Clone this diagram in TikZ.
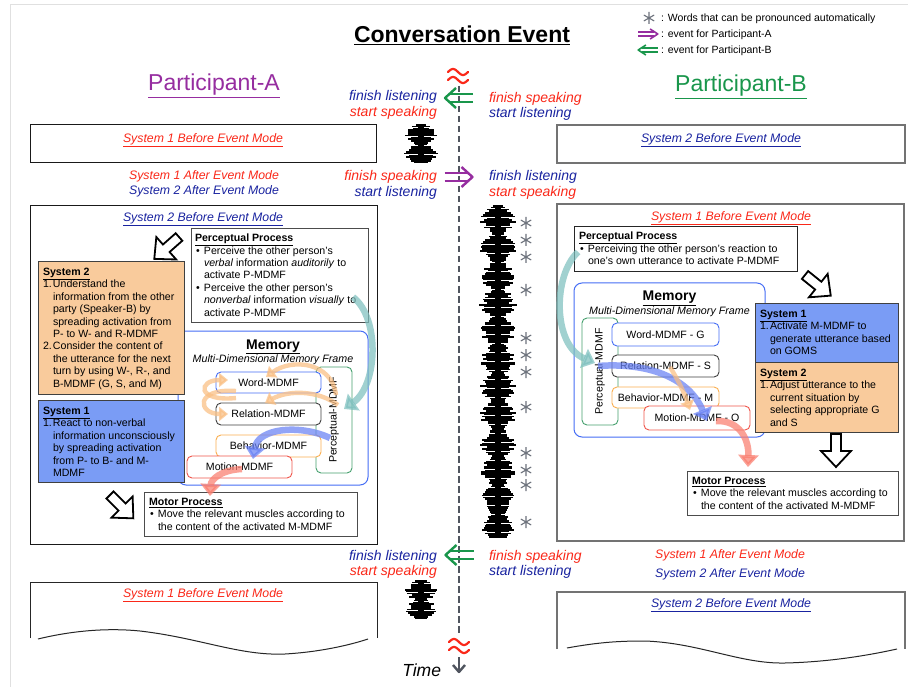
\documentclass[tikz,border=0pt]{standalone}
\usepackage{fontspec}
\setmainfont{Liberation Sans}
\usetikzlibrary{arrows.meta}
\definecolor{navy}{RGB}{25,35,160}
\definecolor{rtxt}{RGB}{250,40,25}
\definecolor{purp}{RGB}{150,45,160}
\definecolor{grn}{RGB}{25,150,75}
\definecolor{membl}{RGB}{70,110,245}
\definecolor{orbd}{RGB}{250,175,80}
\definecolor{rdbd}{RGB}{240,85,75}
\definecolor{grbd}{RGB}{70,160,110}
\definecolor{sysone}{RGB}{122,156,245}
\definecolor{systwo}{RGB}{249,203,156}
\definecolor{tealar}{RGB}{125,192,190}
\definecolor{orar}{RGB}{250,190,130}
\definecolor{blar}{RGB}{105,130,245}
\definecolor{saar}{RGB}{250,125,110}
\definecolor{axisgr}{RGB}{80,85,95}
\definecolor{asgr}{RGB}{110,115,125}
\newcommand\bitem{\hspace*{1pt}\makebox[8pt][l]{•}}
\newcommand\bind{\hspace*{9pt}}
\newcommand\nitem[1]{\makebox[10pt][l]{#1}}
\newcommand\nind{\hspace*{10pt}}
\newcommand\ttl[1]{\underline{\textbf{#1}}}
\newcommand\astk[2]{\draw[asgr, line width=1.1pt, shift={(#1,#2)}] (90:6) -- (270:6) (30:6) -- (210:6) (-30:6) -- (150:6);}
\newcommand\evarrow[6]{\begin{scope}[shift={(#2,#3)}, xscale=#4, yscale=#5]
 \draw[#1, line width=#6, line join=round] (3,-10) -- (14,0) -- (3,10);
 \draw[#1, line width=#6] (-14,-4) -- (9,-4) (-14,4) -- (9,4);
\end{scope}}
\newcommand\hollowarr[3]{\draw[line width=1.8pt, fill=white, line join=miter, shift={(#1,#2)}, rotate=#3] (0,-5) -- (17,-5) -- (17,-15) -- (33,0) -- (17,15) -- (17,5) -- (0,5) -- cycle;}
\newcommand\wavecol[5]{%
 \fill (#1-3,#2) rectangle (#1+3,#2+1.8*#3+1.65);
 \foreach \k in {0,...,#3}{%
   \pgfmathsetmacro\hw{3+#4*(0.25+0.75*abs(sin(\k*#5)))*(0.5+0.5*rnd)}%
   \fill ({#1-\hw},{#2+1.8*\k}) rectangle ({#1+\hw},{#2+1.8*\k+1.65});
 }}
\newcommand\squig[2]{\begin{scope}[shift={(#1,#2)}]
 \draw[rtxt, line width=2.2pt, line cap=round] plot[domain=-10:10, samples=25, smooth] (\x, {-4+3*sin(\x*18)});
 \draw[rtxt, line width=2.2pt, line cap=round] plot[domain=-10:10, samples=25, smooth] (\x, {4+3*sin(\x*18)});
\end{scope}}
\tikzset{
 every node/.style={inner sep=0pt, outer sep=0pt},
 body/.style={font=\fontsize{10.6}{12.4}\selectfont, align=left, anchor=north west},
 evt/.style={font=\fontsize{14}{16}\selectfont\itshape},
 mode/.style={font=\fontsize{12.3}{14}\selectfont\itshape, anchor=base},
 legend/.style={font=\fontsize{10.5}{12}\selectfont, anchor=base west},
 outerA/.style={draw=black!90, line width=1pt, anchor=north west},
 outerB/.style={draw=black!55, line width=1.2pt, anchor=north west},
 pbox/.style={draw=black!70, line width=0.9pt, fill=white, anchor=north west},
 sbox/.style={draw=black!75, line width=0.9pt, anchor=north west},
 mbox/.style={draw, line width=0.9pt, rounded corners=5pt, fill=white, font=\fontsize{10.6}{12}\selectfont, anchor=north west},
 membox/.style={draw=membl, line width=1pt, rounded corners=8pt, anchor=north west},
 fat/.style={line width=6.5pt, opacity=0.72, -{Triangle[length=12pt,width=20pt]}},
 fatsm/.style={line width=4.4pt, opacity=0.72, -{Triangle[length=9pt,width=14pt]}},
}
\begin{document}
\begin{tikzpicture}[x=1pt,y=-1pt]
\useasboundingbox (0,0) rectangle (908,687);
\fill[white] (0,0) rectangle (908,687);
\draw[black!12, line width=1pt] (10,687) -- (10,5) -- (908,5);
\pgfmathsetseed{4321}

% ---- titles
\node[font=\fontsize{23}{26}\selectfont\bfseries, anchor=base] (title) at (462,43) {\underline{Conversation Event}};
\node[font=\fontsize{23}{26}\selectfont, text=purp, anchor=base] (pa) at (214,91) {\underline{Participant-A}};
\node[font=\fontsize{23}{26}\selectfont, text=grn, anchor=base] (pb) at (741,92) {\underline{Participant-B}};

% ---- legend
\astk{649}{18}
\node[legend] (lg1) at (661,22) {: Words that can be pronounced automatically};
\evarrow{purp}{648}{34}{0.7}{0.5}{1.6pt}
\node[legend] (lg2) at (661,38) {: event for Participant-A};
\evarrow{grn}{648}{50}{-0.7}{0.5}{1.6pt}
\node[legend] (lg3) at (661,54) {: event for Participant-B};

% ---- time axis
\draw[axisgr, line width=2.4pt, dash pattern=on 6.5pt off 3.5pt] (459,86) -- (459,636);
\squig{458}{76}
\squig{459}{646}
\draw[axisgr, line width=2.4pt] (459,657) -- (459,672);
\draw[axisgr, line width=2.4pt, line join=round] (453,665) -- (459,672) -- (465,665);
\node[font=\fontsize{17.5}{20}\selectfont\itshape, anchor=base east] (time) at (441,676) {Time};

% ---- event 1
\node[evt, text=navy, anchor=base east] (e1a) at (437,101) {finish listening};
\node[evt, text=rtxt, anchor=base east] (e1b) at (437,116.5) {start speaking};
\evarrow{grn}{459}{98}{-1}{1}{2.4pt}
\node[evt, text=rtxt, anchor=base west] (e1c) at (489,103) {finish speaking};
\node[evt, text=navy, anchor=base west] (e1d) at (489,117.5) {start listening};
% ---- event 2
\node[evt, text=rtxt, anchor=base east] (e2a) at (437,181) {finish speaking};
\node[evt, text=navy, anchor=base east] (e2b) at (437,196.5) {start listening};
\evarrow{purp}{458.5}{177}{1}{1}{2.4pt}
\node[evt, text=navy, anchor=base west] (e2c) at (489,181) {finish listening};
\node[evt, text=rtxt, anchor=base west] (e2d) at (489,197) {start speaking};
% ---- event 3
\node[evt, text=navy, anchor=base east] (e3a) at (437,560) {finish listening};
\node[evt, text=rtxt, anchor=base east] (e3b) at (437,575) {start speaking};
\evarrow{grn}{459.5}{555}{-1}{1}{2.4pt}
\node[evt, text=rtxt, anchor=base west] (e3c) at (489,560) {finish speaking};
\node[evt, text=navy, anchor=base west] (e3d) at (489,575) {start listening};

% ---- waveforms and asterisks
\wavecol{421}{124}{21}{15}{17}
\wavecol{498}{205}{184}{16}{11.6}
\wavecol{421}{580}{21}{15}{17}
\foreach \yy in {223,240,257,290,338,355,372,407,453,470,485,522}{\astk{526}{\yy}}

% ---- top boxes
\node[outerA, minimum width=346, minimum height=38] (tbA) at (30,125) {};
\node[mode, text=rtxt] (tbAt) at (203,142.5) {\underline{System 1 Before Event Mode}};
\node[outerB, minimum width=348, minimum height=38] (tbB) at (557,125) {};
\node[mode, text=navy] (tbBt) at (721,142.5) {\underline{System 2 Before Event Mode}};
\node[mode, text=rtxt] (amA1) at (204,179.5) {System 1 After Event Mode};
\node[mode, text=navy] (amA2) at (204,194.5) {System 2 After Event Mode};

% ================= LEFT BIG BOX
\node[outerA, minimum width=347, minimum height=338] (bigA) at (30,206) {};
\node[mode, text=navy] (bigAt) at (203,221.5) {\underline{System 2 Before Event Mode}};
% memory
\node[membox, minimum width=190, minimum height=154] (memA) at (178,331) {};
\node[font=\fontsize{14}{16}\selectfont\bfseries, anchor=base] (memAt) at (273,349) {\underline{Memory}};
\node[font=\fontsize{10.7}{12}\selectfont\itshape, anchor=base] (memAs) at (273,362) {Multi-Dimensional Memory Frame};
\node[mbox, draw=grbd, minimum width=36, minimum height=106] (pmA) at (316,367) {};
\node[rotate=90, font=\fontsize{10.6}{12}\selectfont] (pmAt) at (334,420) {Perceptual-MDMF};
\node[mbox, draw=membl, minimum width=105, minimum height=21] (wA) at (216,372) {Word-MDMF};
\node[mbox, draw=black!75, minimum width=105, minimum height=22] (rA) at (216,403) {Relation-MDMF};
\node[mbox, draw=orbd, minimum width=105, minimum height=22] (bA) at (216,435) {Behavior-MDMF};
\node[mbox, draw=rdbd, minimum width=105, minimum height=22] (mA) at (187,456) {Motion-MDMF};
% perceptual process
\node[pbox, minimum width=177, minimum height=94] (ppA) at (191,228) {};
\node[body] (ppAt) at (195,234) {\ttl{Perceptual Process}\\
\bitem Perceive the other person's\\
\bind\textit{verbal} information \textit{auditorily} to\\
\bind activate P-MDMF\\
\bitem Perceive the other person's\\
\bind\textit{nonverbal} information \textit{visually} to\\
\bind activate P-MDMF};
% system boxes
\node[sbox, fill=systwo, minimum width=146, minimum height=133] (s2A) at (38,261) {};
\node[body] (s2At) at (43,268) {\ttl{System 2}\\
\nitem{1.}Understand the\\
\nind information from the other\\
\nind party (Speaker-B) by\\
\nind spreading activation from\\
\nind P- to W- and R-MDMF\\
\nitem{2.}Consider the content of\\
\nind the utterance for the next\\
\nind turn by using W-, R-, and\\
\nind B-MDMF (G, S, and M)};
\node[sbox, fill=sysone, minimum width=146, minimum height=82] (s1A) at (38,400) {};
\node[body] (s1At) at (43,407) {\ttl{System 1}\\
\nitem{1.}React to non-verbal\\
\nind information unconsciously\\
\nind by spreading activation\\
\nind from P- to B- and M-\\
\nind MDMF};
% motor
\node[pbox, minimum width=213, minimum height=44] (moA) at (144,492) {};
\node[body] (moAt) at (149,498) {\ttl{Motor Process}\\
\bitem Move the relevant muscles according to\\
\bind the content of the activated M-MDMF};
% hollow arrows
\hollowarr{179}{237}{221.5}
\hollowarr{110}{495}{-45}
% coloured flows
\coordinate (tA1) at (353,297); \coordinate (tA2) at (344,409);
\draw[fat, tealar] (tA1) .. controls (380,318) and (378,385) .. (tA2);
\coordinate (oA1) at (336,395); \coordinate (oA2) at (266,377);
\draw[fatsm, orar] (oA1) .. controls (332,362) and (292,358) .. (oA2);
\coordinate (oA3) at (338,405); \coordinate (oA4) at (265,403);
\draw[fatsm, orar] (oA3) .. controls (318,390) and (288,390) .. (oA4);
\coordinate (oA5) at (236,398); \coordinate (oA6) at (228,380);
\draw[fatsm, orar] (oA5) .. controls (196,402) and (198,380) .. (oA6);
\coordinate (oA7) at (236,391); \coordinate (oA8) at (228,414);
\draw[fatsm, orar] (oA7) .. controls (194,388) and (198,414) .. (oA8);
\coordinate (bA1) at (330,438); \coordinate (bA2) at (253,459);
\draw[fat, blar] (bA1) .. controls (300,424) and (258,428) .. (bA2);
\coordinate (sA1) at (242,469); \coordinate (sA2) at (210,496);
\draw[fat, saar] (sA1) .. controls (220,470) and (211,480) .. (sA2);

% ================= RIGHT BIG BOX
\node[outerB, minimum width=347, minimum height=337] (bigB) at (557,204) {};
\node[mode, text=rtxt] (bigBt) at (731,220.5) {\underline{System 1 Before Event Mode}};
\node[membox, minimum width=191, minimum height=154] (memB) at (574,283) {};
\node[font=\fontsize{14}{16}\selectfont\bfseries, anchor=base] (memBt) at (669.5,301) {\underline{Memory}};
\node[font=\fontsize{10.7}{12}\selectfont\itshape, anchor=base] (memBs) at (669.5,314) {Multi-Dimensional Memory Frame};
\node[mbox, draw=grbd, minimum width=36, minimum height=107] (pmB) at (582,318) {};
\node[rotate=90, font=\fontsize{10.6}{12}\selectfont] (pmBt) at (600,371.5) {Perceptual-MDMF};
\node[mbox, draw=membl, minimum width=107, minimum height=23] (wB) at (612,323) {Word-MDMF - G};
\node[mbox, draw=black!75, minimum width=107, minimum height=22] (rB) at (612,355) {Relation-MDMF - S};
\node[mbox, draw=orbd, minimum width=107, minimum height=21] (bB) at (612,387) {Behavior-MDMF - M};
\node[mbox, draw=rdbd, minimum width=106, minimum height=24] (mB) at (644,406) {Motion-MDMF - O};
\node[pbox, draw=black!85, minimum width=223, minimum height=45] (ppB) at (574,226) {};
\node[body] (ppBt) at (579,232) {\ttl{Perceptual Process}\\
\bitem Perceiving the other person's reaction to\\
\bind one's own utterance to activate P-MDMF};
\node[sbox, fill=sysone, minimum width=143, minimum height=59] (s1B) at (755,303) {};
\node[body] (s1Bt) at (760,310) {\ttl{System 1}\\
\nitem{1.}Activate M-MDMF to\\
\nind generate utterance based\\
\nind on GOMS};
\node[sbox, fill=systwo, minimum width=143, minimum height=70] (s2B) at (755,362) {};
\node[body] (s2Bt) at (760,369) {\ttl{System 2}\\
\nitem{1.}Adjust utterance to the\\
\nind current situation by\\
\nind selecting appropriate G\\
\nind and S};
\node[pbox, minimum width=211, minimum height=44] (moB) at (687,471) {};
\node[body] (moBt) at (692,477) {\ttl{Motor Process}\\
\bitem Move the relevant muscles according to\\
\bind the content of the activated M-MDMF};
\hollowarr{805}{275}{-38.7}
\hollowarr{836}{434}{-90}
\coordinate (tB1) at (578,252); \coordinate (tB2) at (595,363);
\draw[fat, tealar] (tB1) .. controls (553,275) and (552,345) .. (tB2);
\coordinate (bB1) at (598,366); \coordinate (bB2) at (707,421);
\draw[fat, blar] (bB1) .. controls (652,362) and (690,380) .. (bB2);
\coordinate (oB1) at (670,367); \coordinate (oB2) at (690,410);
\draw[fatsm, orar] (oB1) .. controls (678,380) and (684,392) .. (oB2);
\coordinate (sB1) at (716,421); \coordinate (sB2) at (748,467);
\draw[fat, saar] (sB1) .. controls (740,420) and (749,440) .. (sB2);

\node[mode, text=rtxt] (amB1) at (730,558.5) {System 1 After Event Mode};
\node[mode, text=navy] (amB2) at (730,577.5) {System 2 After Event Mode};

% ================= BOTTOM BOXES
\draw[black!85, line width=1pt] (30,638) -- (30,582) -- (377,582) -- (377,638);
\draw[black!85, line width=1pt] (38,639) .. controls (75,630) and (110,628) .. (140,631) .. controls (200,638) and (240,656) .. (285,654) .. controls (320,652) and (350,645) .. (368,639);
\node[mode, text=rtxt] (btAt) at (203,597) {\underline{System 1 Before Event Mode}};
\draw[black!55, line width=1.2pt] (557,649) -- (557,592) -- (905,592) -- (905,649);
\draw[black!85, line width=1pt] (567,648) .. controls (600,642) and (620,641) .. (645,641) .. controls (700,643) and (740,664) .. (785,663) .. controls (830,662) and (870,655) .. (897,649);
\node[mode, text=navy] (btBt) at (731,607) {\underline{System 2 Before Event Mode}};
\end{tikzpicture}
\end{document}
